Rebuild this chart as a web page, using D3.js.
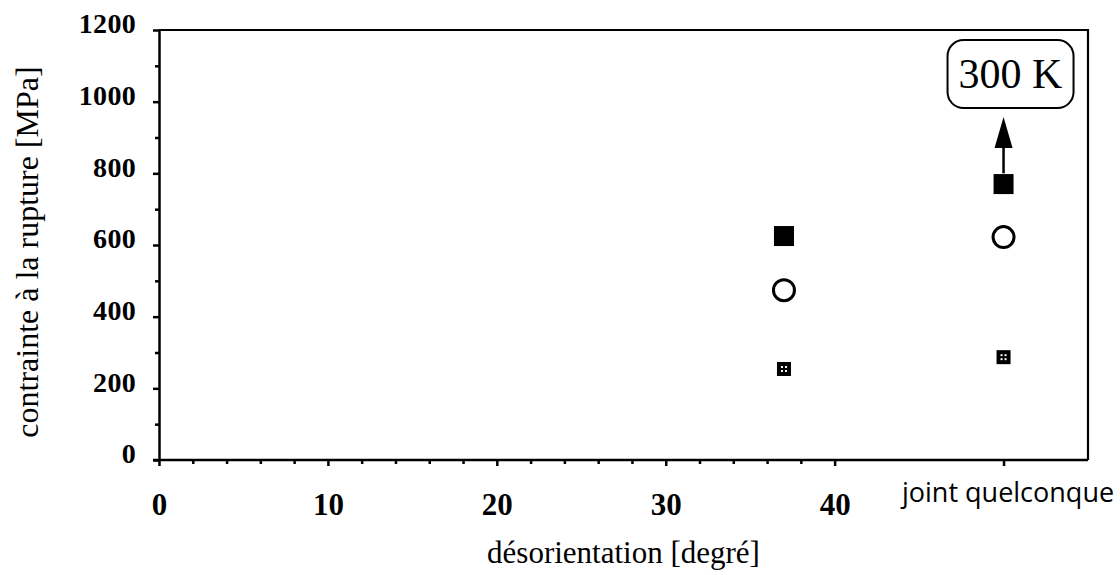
<!DOCTYPE html>
<html><head><meta charset="utf-8">
<script src="https://cdn.jsdelivr.net/npm/d3@7"></script>
<style>
html,body{margin:0;padding:0;background:#fff;}
svg{display:block;}
</style>
</head><body>
<svg id="chart" width="1120" height="575"></svg>
<script>
// ---- data ----
const categories = [37, 50];               // x positions (50 = "joint quelconque")
const filledSquare = [625, 770];           // contrainte (MPa), filled squares
const openCircle = [474, 622];             // contrainte (MPa), open circles
const smallSquare = [254, 287];            // contrainte (MPa), small dotted squares
const xTickValues = [0, 10, 20, 30, 40, 50];
const xTickLabels = ["0", "10", "20", "30", "40", "joint quelconque"];
const xMinorTicks = [2,4,6,8,12,14,16,18,22,24,26,28,32,34,36,38];
const yTickValues = [0, 200, 400, 600, 800, 1000, 1200];
const yMinorTicks = [100, 300, 500, 700, 900, 1100];
const annotation = {label: "300 K", x: 50, y: 1077, arrowFrom: 800, arrowTo: 957};

// ---- layout ----
const svg = d3.select("#chart");
const x = d3.scaleLinear().domain([0, 55]).range([159, 1088]);
const y = d3.scaleLinear().domain([0, 1200]).range([460, 30]);
const serif = "'Liberation Serif','Times New Roman',serif";

// frame (top and right)
svg.append("path")
  .attr("d", `M${x(0)},${y(1200)}H${x(55)}V${y(0)}`)
  .attr("fill", "none").attr("stroke", "#000").attr("stroke-width", 2.2);

// y axis
const yAxis = d3.axisLeft(y).tickValues(yTickValues).tickSize(6).tickSizeOuter(0).tickPadding(17)
  .tickFormat(d3.format("d"));
const gy = svg.append("g").attr("transform", `translate(${x(0)},0)`).call(yAxis);
gy.select(".domain").attr("stroke-width", 2.5);
gy.selectAll(".tick line").attr("stroke-width", 2.5);
gy.selectAll(".tick text").attr("font-family", serif).attr("font-size", 28).attr("font-weight", "bold")
  .attr("dy", "0.1em").attr("letter-spacing", "0.3");
const gym = svg.append("g").attr("transform", `translate(${x(0)},0)`)
  .call(d3.axisLeft(y).tickValues(yMinorTicks).tickSize(4).tickSizeOuter(0).tickFormat(""));
gym.select(".domain").remove();
gym.selectAll(".tick line").attr("stroke-width", 2.5);

// x axis
const xAxis = d3.axisBottom(x).tickValues(xTickValues).tickSize(6).tickSizeOuter(0).tickPadding(27)
  .tickFormat((d, i) => xTickLabels[i]);
const gx = svg.append("g").attr("transform", `translate(0,${y(0)})`).call(xAxis);
gx.select(".domain").attr("d", `M${x(0) - 6},0H${x(55)}`).attr("stroke-width", 2.5);
gx.selectAll(".tick line").attr("stroke-width", 2.5);
gx.selectAll(".tick text").attr("font-family", serif).attr("font-size", 31).attr("font-weight", "bold");
gx.selectAll(".tick text").filter((d) => d === 50)
  .attr("font-family", "'Open Sans', Lato, sans-serif").attr("font-weight", "normal")
  .attr("font-size", 27).attr("y", 42).attr("dy", "0").attr("dx", 4);
const gxm = svg.append("g").attr("transform", `translate(0,${y(0)})`)
  .call(d3.axisBottom(x).tickValues(xMinorTicks).tickSize(4).tickSizeOuter(0).tickFormat(""));
gxm.select(".domain").remove();
gxm.selectAll(".tick line").attr("stroke-width", 2.5);

// axis titles
svg.append("text").attr("x", (x(0) + x(55)) / 2).attr("y", 563)
  .attr("text-anchor", "middle").attr("font-family", serif).attr("font-size", 31)
  .text("désorientation [degré]");
svg.append("text").attr("transform", `translate(38,252) rotate(-90)`)
  .attr("text-anchor", "middle").attr("font-family", serif).attr("font-size", 32)
  .text("contrainte à la rupture [MPa]");

// markers
const pts = (vals) => categories.map((c, i) => ({x: c, v: vals[i]}));
svg.append("g").selectAll("rect").data(pts(filledSquare)).join("rect")
  .attr("x", d => x(d.x) - 10).attr("y", d => y(d.v) - 10)
  .attr("width", 20).attr("height", 20).attr("fill", "#000");
svg.append("g").selectAll("circle").data(pts(openCircle)).join("circle")
  .attr("cx", d => x(d.x)).attr("cy", d => y(d.v)).attr("r", 10.5)
  .attr("fill", "none").attr("stroke", "#000").attr("stroke-width", 3);
const ss = svg.append("g").selectAll("g").data(pts(smallSquare)).join("g")
  .attr("transform", d => `translate(${x(d.x)},${y(d.v)})`);
ss.append("rect").attr("x", -7).attr("y", -7).attr("width", 14).attr("height", 14).attr("fill", "#000");
ss.selectAll("rect.dot").data([[-3,-3],[1,-3],[-3,1],[1,1]]).join("rect").attr("class", "dot")
  .attr("x", d => d[0]).attr("y", d => d[1]).attr("width", 2).attr("height", 2).attr("fill", "#fff");

// annotation arrow + box
const ax = x(annotation.x);
svg.append("line").attr("x1", ax).attr("x2", ax)
  .attr("y1", y(annotation.arrowFrom)).attr("y2", y(annotation.arrowTo) + 20)
  .attr("stroke", "#000").attr("stroke-width", 2.5);
svg.append("path")
  .attr("d", `M${ax},${y(annotation.arrowTo)}L${ax - 9},${y(annotation.arrowTo) + 31}L${ax + 9},${y(annotation.arrowTo) + 31}Z`)
  .attr("fill", "#000");
const bx = x(annotation.x) + 7, by = y(annotation.y);
svg.append("rect").attr("x", bx - 63).attr("y", by - 34).attr("width", 126).attr("height", 68)
  .attr("rx", 16).attr("ry", 16).attr("fill", "#fff").attr("stroke", "#000").attr("stroke-width", 2);
svg.append("text").attr("x", bx).attr("y", by + 14).attr("text-anchor", "middle")
  .attr("font-family", serif).attr("font-size", 42).text(annotation.label);
</script>
</body></html>
